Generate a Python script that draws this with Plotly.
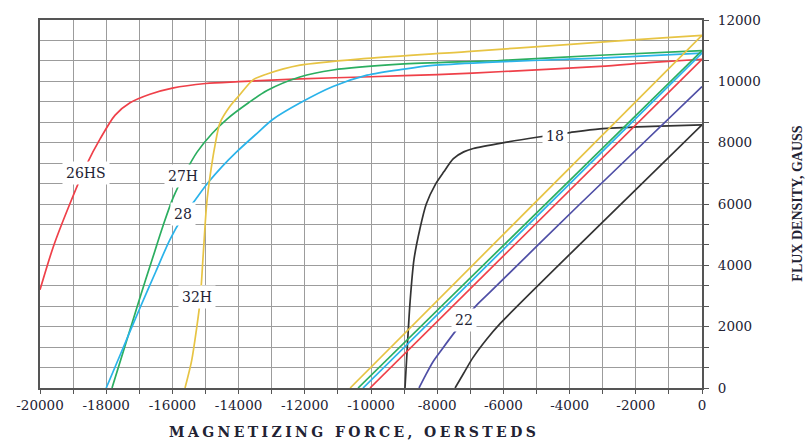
import plotly.graph_objects as go

# Demagnetization curves (intrinsic J and normal B) for several magnet grades
# H in oersteds, B in gauss

# --- intrinsic curves ---
h_26hs = [-20000, -19600, -19100, -18600, -18180, -17730, -17280, -16680, -16000,
          -15000, -14000, -12150, -10000, -8000, -6000, -3080, -1500, 0]
b_26hs = [3200, 4600, 6000, 7270, 8130, 8900, 9300, 9580, 9780,
          9930, 9990, 10080, 10150, 10220, 10320, 10490, 10620, 10720]

h_27h = [-17825, -17400, -17000, -16600, -16280, -15980, -15600, -15250, -14800,
         -14350, -13700, -13140, -12150, -11150, -9120, -6100, -3080, 0]
b_27h = [0, 1480, 2880, 4230, 5300, 6200, 7050, 7700, 8300,
         8770, 9300, 9700, 10140, 10370, 10560, 10680, 10850, 11000]

h_28 = [-18000, -17500, -17000, -16500, -16070, -15700, -15300, -14920, -14500,
        -14060, -13500, -12950, -12150, -11150, -10120, -9000, -8130, -6500,
        -5100, -3080, 0]
b_28 = [0, 1280, 2560, 3800, 4850, 5550, 6150, 6700, 7220,
        7700, 8250, 8770, 9290, 9830, 10200, 10400, 10520, 10620,
        10680, 10760, 10920]

h_32h = [-15619, -15418, -15267, -15166, -15066, -14965, -14864, -14713, -14562,
         -14260, -13958, -13565, -13142, -12145, -10120, -7100, -4080, -1180, 0]
b_32h = [0, 893, 1956, 2807, 4402, 5997, 6890, 7911, 8645,
         9187, 9570, 10049, 10240, 10527, 10750, 10970, 11200, 11420, 11500]

h_18 = [-8973, -8900, -8820, -8700, -8520, -8330, -8050, -7800, -7510, -7200,
        -6910, -5900, -4990, -3990, -3080, -1500, 0]
b_18 = [0, 1400, 2800, 4200, 5200, 6000, 6650, 7050, 7480, 7700,
        7810, 8017, 8176, 8330, 8450, 8530, 8580]

# --- normal curves ---
hn_32h = [-10630, 0]
bn_32h = [0, 11500]
hn_27h = [-10390, 0]
bn_27h = [0, 11000]
hn_28 = [-10240, 0]
bn_28 = [0, 10920]
hn_26hs = [-10030, 0]
bn_26hs = [0, 10720]
hn_22 = [-8550, -8350, -8130, -7865, -7412, -6808, -6405, -3686, 0]
bn_22 = [0, 420, 850, 1250, 1904, 2702, 3126, 6000, 9830]
hn_18 = [-7460, -7200, -6920, -6500, -6100, -3080, 0]
bn_18 = [0, 480, 990, 1600, 2100, 5330, 8580]

# curve labels: text, H, B
label_text = ["26HS", "27H", "28", "32H", "18", "22"]
label_h = [-18610, -15695, -15680, -15272, -4440, -7190]
label_b = [7020, 6920, 5680, 2967, 8230, 2233]

# axis ticks
x_tickvals = [-20000, -18000, -16000, -14000, -12000, -10000, -8000, -6000, -4000, -2000, 0]
x_ticktext = ["-20000", "-18000", "-16000", "-14000", "-12000", "-10000",
              "-8000", "-6000", "-4000", "-2000", "0"]
y_tickvals = [0, 2000, 4000, 6000, 8000, 10000, 12000]
y_ticktext = ["0", "2000", "4000", "6000", "8000", "10000", "12000"]

RED = "#ef4049"
GREEN = "#2bae60"
CYAN = "#2ab3ea"
YELLOW = "#e7c444"
BLUE = "#4f4fa6"
BLACK = "#333333"
TEXT = "#222233"
LW = 1.7

series = [
    (h_26hs, b_26hs, RED), (h_27h, b_27h, GREEN), (h_28, b_28, CYAN),
    (h_32h, b_32h, YELLOW), (h_18, b_18, BLACK),
    (hn_32h, bn_32h, YELLOW), (hn_27h, bn_27h, GREEN), (hn_28, bn_28, CYAN),
    (hn_26hs, bn_26hs, RED), (hn_22, bn_22, BLUE), (hn_18, bn_18, BLACK),
]

fig = go.Figure()
for hx, by, col in series:
    fig.add_trace(go.Scatter(x=hx, y=by, mode="lines",
                             line=dict(color=col, width=LW, shape="spline", smoothing=0.8),
                             hoverinfo="skip", showlegend=False))

for t, hx, by in zip(label_text, label_h, label_b):
    fig.add_annotation(x=hx, y=by, text=t, showarrow=False,
                       font=dict(family="DejaVu Serif", size=14, color=TEXT),
                       bgcolor="white", borderpad=3, xanchor="center", yanchor="middle")

fig.add_annotation(
    xref="paper", yref="paper", x=0.475, y=-0.12,
    text="<span style='letter-spacing:3.4px'><b>MAGNETIZING FORCE, OERSTEDS</b></span>",
    showarrow=False, xanchor="center", yanchor="middle",
    font=dict(family="DejaVu Serif", size=14, color=TEXT))
fig.add_annotation(
    xref="paper", yref="paper", x=1.143, y=0.5, textangle=-90,
    text="<b>FLUX DENSITY, GAUSS</b>",
    showarrow=False, xanchor="center", yanchor="middle",
    font=dict(family="Liberation Serif", size=14, color=TEXT))

grid_col = "#9c9c9c"
axis_col = "#555555"

fig.update_xaxes(
    range=[-20000, 0], tickvals=x_tickvals, ticktext=x_ticktext,
    showgrid=True, gridcolor=grid_col, gridwidth=1.4,
    ticks="outside", ticklen=4, tickwidth=1.4, tickcolor=axis_col,
    showline=True, linecolor=axis_col, linewidth=2.2, mirror=True,
    zeroline=False,
    minor=dict(dtick=1000, tick0=0, showgrid=True, gridcolor=grid_col, gridwidth=1.4,
               ticks="outside", ticklen=4, tickwidth=1.4, tickcolor=axis_col),
    tickfont=dict(family="DejaVu Serif", size=13.5, color=TEXT),
)
fig.update_yaxes(
    range=[0, 12000], side="right", tickvals=y_tickvals, ticktext=y_ticktext,
    showgrid=True, gridcolor=grid_col, gridwidth=1.4,
    ticks="outside", ticklen=5, tickwidth=1.4, tickcolor=axis_col,
    showline=True, linecolor=axis_col, linewidth=2.2, mirror=True,
    zeroline=False, ticklabelstandoff=6,
    minor=dict(dtick=2000 / 3, tick0=0, showgrid=True, gridcolor=grid_col, gridwidth=1.4,
               ticks="outside", ticklen=5, tickwidth=1.4, tickcolor=axis_col),
    tickfont=dict(family="DejaVu Serif", size=13.5, color=TEXT),
)

fig.update_layout(
    width=807, height=445, autosize=False,
    margin=dict(l=40, r=105, t=12, b=57),
    paper_bgcolor="white", plot_bgcolor="white",
)

fig.write_html("out.html")
